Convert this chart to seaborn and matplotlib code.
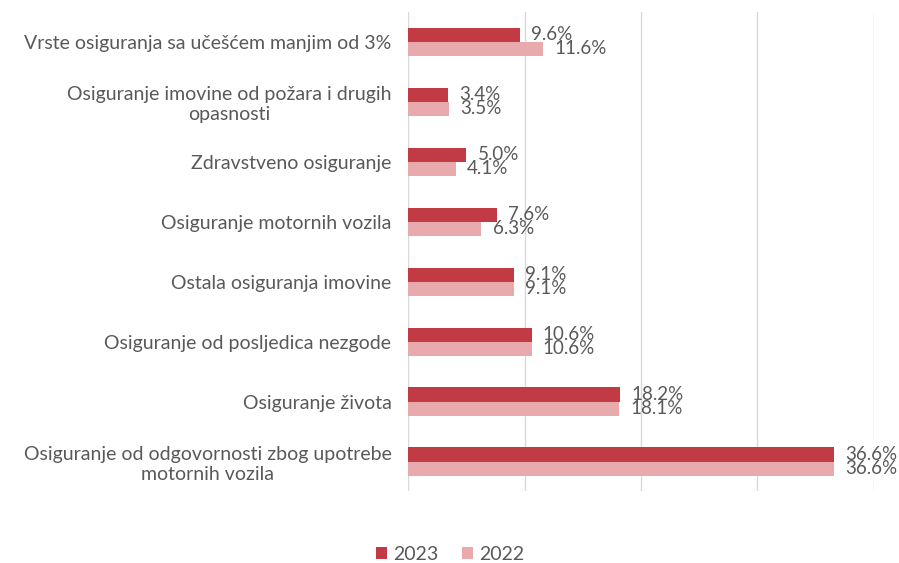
import matplotlib
matplotlib.use("Agg")
import matplotlib.pyplot as plt
import pandas as pd
import seaborn as sns

# categories top -> bottom
categories = [
    "Vrste osiguranja sa učešćem manjim od 3%",
    "Osiguranje imovine od požara i drugih\nopasnosti",
    "Zdravstveno osiguranje",
    "Osiguranje motornih vozila",
    "Ostala osiguranja imovine",
    "Osiguranje od posljedica nezgode",
    "Osiguranje života",
    "Osiguranje od odgovornosti zbog upotrebe\nmotornih vozila",
]
years = ["2023", "2022"]
share_2023 = [9.6, 3.4, 5.0, 7.6, 9.1, 10.6, 18.2, 36.6]
share_2022 = [11.6, 3.5, 4.1, 6.3, 9.1, 10.6, 18.1, 36.6]

colors = {"2023": "#C23B44", "2022": "#E8AAAD"}
text_color = "#595959"

df = pd.DataFrame({
    "Vrsta": categories * 2,
    "Godina": ["2023"] * len(categories) + ["2022"] * len(categories),
    "Udio": share_2023 + share_2022,
})

sns.set_theme(style="white")
plt.rcParams["font.family"] = ["Lato", "DejaVu Sans"]

fig = plt.figure(figsize=(8.99, 5.63), dpi=100)
ax = fig.add_axes([0.454, 0.127, 0.518, 0.852])

sns.barplot(data=df, y="Vrsta", x="Udio", hue="Godina", order=categories,
            hue_order=years, palette=colors, width=0.47, orient="h",
            saturation=1, linewidth=0, ax=ax, legend=True)

# value labels (they overlap a little, as in the original)
for cont in ax.containers:
    ax.bar_label(cont, labels=[f"{v:.1f}%" for v in cont.datavalues],
                 padding=8, fontsize=13.5, color=text_color)

ax.set_xlim(0, 40)
ax.set_xticks([0, 10, 20, 30, 40])
ax.set_xticklabels([])
ax.xaxis.grid(True, color="#D9D9D9", linewidth=1)
ax.set_axisbelow(True)
ax.tick_params(axis="x", length=0)
ax.tick_params(axis="y", length=0, labelsize=14, labelcolor=text_color, pad=12)
for lab in ax.get_yticklabels():
    lab.set_multialignment("center")
for s in ax.spines.values():
    s.set_visible(False)
ax.set_xlabel("")
ax.set_ylabel("")

handles, labels = ax.get_legend_handles_labels()
ax.legend(handles, labels, loc="lower center", bbox_to_anchor=(0.09, -0.185),
          ncol=2, frameon=False, fontsize=14, labelcolor=text_color,
          handlelength=0.6, handleheight=0.6, handletextpad=0.3, columnspacing=1.2)

fig.savefig("out.png", dpi=100)
